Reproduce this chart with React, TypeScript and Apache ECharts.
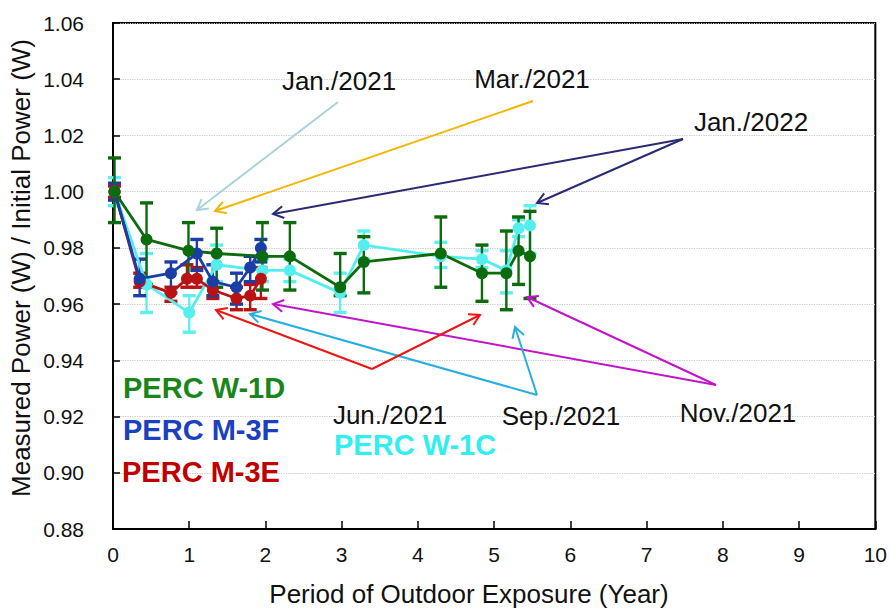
import React, { useEffect, useRef } from "react";
import * as echarts from "echarts";

// ---- data (Year, normalized power) ----
const w1dX = [0.02, 0.44, 0.99, 1.36, 1.96, 2.32, 2.98, 3.29, 4.30, 4.84, 5.16, 5.32, 5.47];
const w1dY = [1.000, 0.983, 0.979, 0.978, 0.977, 0.977, 0.966, 0.975, 0.978, 0.971, 0.971, 0.979, 0.977];
const w1dHi = [1.012, 0.996, 0.989, 0.987, 0.989, 0.989, 0.978, 0.984, 0.991, 0.981, 0.986, 0.991, 0.993];
const w1dLo = [0.989, 0.967, 0.969, 0.966, 0.965, 0.965, 0.963, 0.964, 0.966, 0.961, 0.958, 0.967, 0.962];

const w1cX = [0.02, 0.44, 1.00, 1.36, 1.96, 2.32, 2.98, 3.29, 4.30, 4.84, 5.16, 5.32, 5.47];
const w1cY = [1.000, 0.967, 0.957, 0.974, 0.972, 0.972, 0.964, 0.981, 0.977, 0.976, 0.972, 0.987, 0.988];
const w1cHi = [1.005, 0.978, 0.963, 0.981, 0.976, 0.976, 0.971, 0.986, 0.982, 0.979, 0.979, 0.990, 0.995];
const w1cLo = [0.995, 0.957, 0.950, 0.968, 0.968, 0.968, 0.957, 0.976, 0.973, 0.973, 0.964, 0.984, 0.978];

const m3fX = [0.02, 0.35, 0.76, 1.10, 1.31, 1.62, 1.80, 1.94];
const m3fY = [1.000, 0.969, 0.971, 0.978, 0.968, 0.966, 0.973, 0.980];
const m3fHi = [1.003, 0.976, 0.975, 0.983, 0.974, 0.971, 0.977, 0.983];
const m3fLo = [0.997, 0.963, 0.964, 0.972, 0.963, 0.960, 0.968, 0.975];

const m3eX = [0.02, 0.35, 0.76, 0.97, 1.10, 1.31, 1.62, 1.80, 1.94];
const m3eY = [1.000, 0.968, 0.964, 0.969, 0.969, 0.965, 0.962, 0.963, 0.969];
const m3eHi = [1.002, 0.971, 0.966, 0.974, 0.973, 0.968, 0.966, 0.967, 0.973];
const m3eLo = [0.998, 0.966, 0.961, 0.966, 0.966, 0.962, 0.958, 0.958, 0.962];

const xTicks = { min: 0, max: 10, interval: 1 };
const yTicks = { min: 0.88, max: 1.06, interval: 0.02 };

const FONT = "Liberation Sans, Arial, sans-serif";

// annotation layout (pixels)
const labels = [
  { text: "Jan./2021", x: 339, y: 81, color: "#111", size: 26, bold: false, align: "center" },
  { text: "Mar./2021", x: 532, y: 79, color: "#111", size: 26, bold: false, align: "center" },
  { text: "Jan./2022", x: 751, y: 122, color: "#111", size: 26, bold: false, align: "center" },
  { text: "Jun./2021", x: 390, y: 415, color: "#111", size: 26, bold: false, align: "center" },
  { text: "Sep./2021", x: 561, y: 416, color: "#111", size: 26, bold: false, align: "center" },
  { text: "Nov./2021", x: 738, y: 413, color: "#111", size: 26, bold: false, align: "center" },
  { text: "PERC W-1C", x: 334, y: 445, color: "#33eeee", size: 29, bold: true, align: "left" },
  { text: "PERC W-1D", x: 123, y: 388, color: "#1a861a", size: 29, bold: true, align: "left" },
  { text: "PERC M-3F", x: 123, y: 430, color: "#1c3fc0", size: 29, bold: true, align: "left" },
  { text: "PERC M-3E", x: 122, y: 472, color: "#c00000", size: 29, bold: true, align: "left" },
];

const arrows = [
  { from: [338, 102], to: [197, 210], color: "#a9d3d9" },
  { from: [533, 101], to: [215, 211], color: "#f2b705" },
  { from: [683, 139], to: [273, 214], color: "#2b2a72" },
  { from: [683, 139], to: [537, 203], color: "#2b2a72" },
  { from: [716, 385], to: [273, 304], color: "#c214c8" },
  { from: [716, 385], to: [527, 297], color: "#c214c8" },
  { from: [537, 395], to: [250, 314], color: "#27afe0" },
  { from: [537, 395], to: [515, 327], color: "#27afe0" },
  { from: [372, 369], to: [216, 310], color: "#ee1414" },
  { from: [372, 369], to: [480, 315], color: "#ee1414" },
];

function zip(x: number[], y: number[]) {
  return x.map((v, i) => [v, y[i]]);
}
function zip3(x: number[], lo: number[], hi: number[]) {
  return x.map((v, i) => [v, lo[i], hi[i]]);
}

function errSeries(name: string, x: number[], lo: number[], hi: number[], color: string) {
  return {
    type: "custom",
    name: name + "-err",
    data: zip3(x, lo, hi),
    encode: { x: 0, y: [1, 2] },
    clip: false,
    renderItem: (params: any, api: any) => {
      const xv = api.value(0);
      const top = api.coord([xv, api.value(2)]);
      const bot = api.coord([xv, api.value(1)]);
      const hw = 6.5;
      const st = { stroke: color, lineWidth: 2.4 };
      const cap = { stroke: color, lineWidth: 3.4 };
      return {
        type: "group",
        children: [
          { type: "line", shape: { x1: top[0], y1: top[1], x2: bot[0], y2: bot[1] }, style: st },
          { type: "line", shape: { x1: top[0] - hw, y1: top[1], x2: top[0] + hw, y2: top[1] }, style: cap },
          { type: "line", shape: { x1: bot[0] - hw, y1: bot[1], x2: bot[0] + hw, y2: bot[1] }, style: cap },
        ],
      };
    },
  };
}

function lineSeries(name: string, x: number[], y: number[], color: string) {
  return {
    type: "line",
    name,
    data: zip(x, y),
    symbol: "circle",
    symbolSize: 12,
    clip: false,
    itemStyle: { color },
    lineStyle: { color, width: 2.8 },
  };
}

function arrowGraphics() {
  const out: any[] = [];
  arrows.forEach((a) => {
    const [x1, y1] = a.from;
    const [x2, y2] = a.to;
    const ang = Math.atan2(y2 - y1, x2 - x1);
    const L = 12;
    const spread = Math.PI / 6;
    const p1 = [x2 - L * Math.cos(ang - spread), y2 - L * Math.sin(ang - spread)];
    const p2 = [x2 - L * Math.cos(ang + spread), y2 - L * Math.sin(ang + spread)];
    out.push({
      type: "line",
      shape: { x1, y1, x2, y2 },
      style: { stroke: a.color, lineWidth: 2 },
      z: 50,
    });
    out.push({
      type: "polyline",
      shape: { points: [p1, [x2, y2], p2] },
      style: { stroke: a.color, lineWidth: 2, fill: null },
      z: 50,
    });
  });
  return out;
}

export default function App() {
  const ref = useRef<HTMLDivElement>(null);
  useEffect(() => {
    if (!ref.current) return;
    const chart = echarts.init(ref.current, undefined, { renderer: "svg" });
    const graphic: any[] = [
      ...arrowGraphics(),
      ...labels.map((l) => ({
        type: "text",
        x: l.x,
        y: l.y,
        z: 60,
        style: {
          text: l.text,
          fill: l.color,
          font: `${l.bold ? "bold " : ""}${l.size}px ${FONT}`,
          textAlign: l.align,
          textVerticalAlign: "middle",
        },
      })),
      {
        type: "text",
        x: 469,
        y: 594,
        style: {
          text: "Period of Outdoor Exposure (Year)",
          fill: "#111",
          font: `26px ${FONT}`,
          textAlign: "center",
          textVerticalAlign: "middle",
        },
      },
      {
        type: "text",
        x: 21,
        y: 268,
        rotation: Math.PI / 2,
        style: {
          text: "Measured Power (W) / Initial Power (W)",
          fill: "#111",
          font: `26px ${FONT}`,
          textAlign: "center",
          textVerticalAlign: "middle",
        },
      },
    ];
    chart.setOption({
      animation: false,
      backgroundColor: "#fff",
      grid: {
        left: 113,
        right: 14,
        top: 23,
        bottom: 80,
        show: true,
        borderColor: "#000",
        borderWidth: 2,
        backgroundColor: "transparent",
      },
      xAxis: {
        type: "value",
        min: xTicks.min,
        max: xTicks.max,
        interval: xTicks.interval,
        axisLine: { lineStyle: { color: "#000", width: 2 } },
        axisTick: { inside: true, length: 8, lineStyle: { color: "#000", width: 1.5 } },
        axisLabel: { fontSize: 21, color: "#111", margin: 15, fontFamily: FONT },
        splitLine: { show: false },
      },
      yAxis: {
        type: "value",
        min: yTicks.min,
        max: yTicks.max,
        interval: yTicks.interval,
        axisLine: { lineStyle: { color: "#000", width: 2 } },
        axisTick: { inside: true, length: 7, lineStyle: { color: "#000", width: 1.5 } },
        axisLabel: {
          fontSize: 21,
          color: "#111",
          margin: 29,
          fontFamily: FONT,
          formatter: (v: number) => v.toFixed(2),
        },
        splitLine: { show: true, lineStyle: { color: "#c8c8c8", type: "dotted", width: 1.2 } },
      },
      series: [
        errSeries("W-1C", w1cX, w1cLo, w1cHi, "#5ef0f0"),
        lineSeries("PERC W-1C", w1cX, w1cY, "#55eeee"),
        errSeries("M-3E", m3eX, m3eLo, m3eHi, "#b81212"),
        lineSeries("PERC M-3E", m3eX, m3eY, "#b81212"),
        errSeries("M-3F", m3fX, m3fLo, m3fHi, "#1b3da6"),
        lineSeries("PERC M-3F", m3fX, m3fY, "#1b3da6"),
        errSeries("W-1D", w1dX, w1dLo, w1dHi, "#0c6b0c"),
        lineSeries("PERC W-1D", w1dX, w1dY, "#0c6b0c"),
      ],
      graphic,
    });
    return () => chart.dispose();
  }, []);
  return (
    <div
      ref={ref}
      style={{ position: "fixed", left: 0, top: 0, width: 890, height: 609 }}
    />
  );
}
